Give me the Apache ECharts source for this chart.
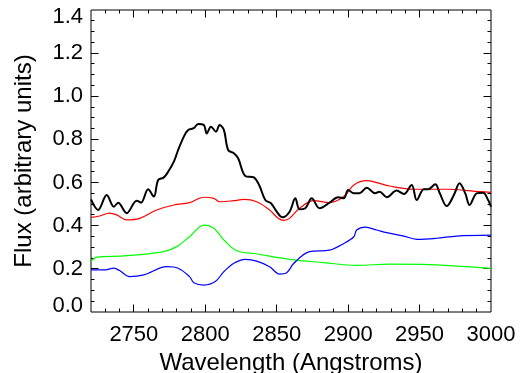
<!DOCTYPE html>
<html>
<head>
<meta charset="utf-8">
<script src="https://cdn.jsdelivr.net/npm/echarts@6/dist/echarts.min.js"></script>
<style>
  html, body { margin: 0; padding: 0; background: #fff; }
  #chart { width: 525px; height: 373px; }
</style>
</head>
<body>
<div id="chart"></div>
<script>
// Spectra: [wavelength (Angstroms), flux (arbitrary units)]
const blackFlux = [
  [2720, 0.522], [2725, 0.473], [2731, 0.542], [2736, 0.488], [2739, 0.507],
  [2745, 0.458], [2752, 0.516], [2755, 0.507], [2760, 0.569], [2764, 0.535],
  [2767, 0.612], [2771, 0.624], [2774, 0.650], [2778, 0.697], [2781, 0.751],
  [2785, 0.813], [2788, 0.844], [2792, 0.852], [2795, 0.872], [2799, 0.867],
  [2801, 0.828], [2804, 0.859], [2807.5, 0.836], [2810, 0.867], [2813, 0.844],
  [2816, 0.751], [2820, 0.736], [2823, 0.713], [2828, 0.631], [2834, 0.624],
  [2838, 0.584], [2842, 0.519], [2846, 0.504], [2850, 0.465], [2854, 0.439],
  [2859, 0.465], [2863, 0.527], [2866, 0.476], [2870, 0.481], [2874.5, 0.527],
  [2880, 0.481], [2887, 0.507], [2893, 0.532], [2897, 0.527], [2900, 0.566],
  [2904, 0.550], [2908, 0.550], [2913, 0.576], [2919, 0.550], [2922, 0.558],
  [2927, 0.532], [2934, 0.563], [2939, 0.547], [2944.5, 0.589], [2948, 0.519],
  [2953, 0.569], [2956, 0.569], [2961, 0.592], [2964, 0.553], [2969, 0.491],
  [2974, 0.542], [2978, 0.597], [2982, 0.550], [2985, 0.496], [2990, 0.550],
  [2994.5, 0.553], [2998, 0.519], [3000, 0.488]
];

const redFlux = [
  [2720, 0.439], [2726, 0.445], [2733, 0.458], [2738, 0.450], [2745, 0.427],
  [2754, 0.434], [2766, 0.473], [2778, 0.496], [2789, 0.507], [2799, 0.532],
  [2806, 0.527], [2810, 0.511], [2820, 0.516], [2827, 0.522], [2836, 0.511],
  [2845, 0.473], [2851, 0.435], [2855, 0.425], [2859, 0.434], [2866, 0.481],
  [2876, 0.516], [2887, 0.507], [2897, 0.535], [2904, 0.589], [2913, 0.609],
  [2920, 0.600], [2929, 0.584], [2946, 0.569], [2969, 0.569], [2992, 0.558],
  [3000, 0.555]
];

const greenFlux = [
  [2720, 0.233], [2724, 0.254], [2743, 0.260], [2771, 0.280], [2780, 0.303],
  [2789, 0.349], [2799, 0.403], [2806, 0.388], [2813, 0.334], [2822, 0.284],
  [2836, 0.269], [2859, 0.244], [2883, 0.229], [2906, 0.216], [2929, 0.222],
  [2953, 0.221], [2976, 0.213], [3000, 0.202]
];

const blueFlux = [
  [2720, 0.195], [2729, 0.195], [2736, 0.203], [2740, 0.192], [2747, 0.164],
  [2757, 0.172], [2773, 0.210], [2781, 0.203], [2789, 0.164], [2792, 0.136],
  [2799, 0.125], [2807, 0.141], [2813, 0.187], [2820, 0.226], [2828, 0.244],
  [2836, 0.236], [2845, 0.210], [2852, 0.176], [2857, 0.182], [2862, 0.226],
  [2873, 0.280], [2887, 0.287], [2897, 0.318], [2904, 0.349], [2906, 0.380],
  [2912, 0.393], [2920, 0.380], [2927, 0.368], [2939, 0.352], [2948, 0.337],
  [2962, 0.342], [2976, 0.352], [3000, 0.356]
];

// Axis ranges and tick values
const xRange = [2720, 3000];
const yRange = [0, 1.4];
const xMajorTicks = [2750, 2800, 2850, 2900, 2950, 3000];
const yMajorTicks = [0.0, 0.2, 0.4, 0.6, 0.8, 1.0, 1.2, 1.4];

// every 10 A on x, every 0.05 on y; flag 1 marks a major tick
const xTickMarks = [];
for (let w = 2730; w < 3000; w += 10) xTickMarks.push([w, xMajorTicks.includes(w) ? 1 : 0]);
const yTickMarks = [];
for (let i = 1; i < 28; i++) yTickMarks.push([+(i * 0.05).toFixed(2), i % 4 === 0 ? 1 : 0]);

const FONT = 'Liberation Sans, Arial, Helvetica, sans-serif';
const MAJOR_LEN = 7.5, MINOR_LEN = 3.5;

function crisp(v) { return Math.round(v - 0.5) + 0.5; }

function tickLine(x1, y1, x2, y2) {
  return { type: 'line', shape: { x1: x1, y1: y1, x2: x2, y2: y2 }, style: { stroke: '#000', lineWidth: 1 } };
}

// Inward tick marks on both sides of the frame, placed through the axis scales
function tickSeries(marks, horizontal) {
  return {
    type: 'custom', data: marks, clip: false,
    renderItem: function (params, api) {
      const cs = params.coordSys;
      const len = api.value(1) ? MAJOR_LEN : MINOR_LEN;
      if (horizontal) {
        const px = crisp(api.coord([api.value(0), yRange[0]])[0]);
        const yb = cs.y + cs.height, yt = cs.y;
        return { type: 'group', children: [
          tickLine(px, yb, px, yb - len),
          tickLine(px, yt, px, yt + len)
        ]};
      }
      const py = crisp(api.coord([xRange[0], api.value(0)])[1]);
      const xl = cs.x, xr = cs.x + cs.width;
      return { type: 'group', children: [
        tickLine(xl, py, xl + len, py),
        tickLine(xr, py, xr - len, py)
      ]};
    }
  };
}

function lineSeries(data, color, width) {
  return {
    type: 'line', data: data,
    showSymbol: false, smooth: 0.35, clip: true,
    lineStyle: { color: color, width: width }
  };
}

function labelText() { return { color: '#000', fontSize: 22, fontFamily: FONT }; }

const chart = echarts.init(document.getElementById('chart'), null, { renderer: 'canvas' });
chart.setOption({
  animation: false,
  backgroundColor: '#fff',
  grid: {
    left: 91, top: 10, right: 34, bottom: 61, outerBoundsMode: 'none',
    show: true, borderColor: '#000', borderWidth: 1, backgroundColor: 'transparent'
  },
  xAxis: {
    type: 'value', min: xRange[0], max: xRange[1],
    axisLine: { show: false },
    axisTick: { show: false },
    splitLine: { show: false },
    axisLabel: Object.assign({
      show: true, customValues: xMajorTicks, margin: 12,
      lineHeight: 22, verticalAlign: 'top',
      formatter: v => String(v)
    }, labelText()),
    name: 'Wavelength (Angstroms)',
    nameLocation: 'middle', nameGap: 35,
    nameTextStyle: { color: '#000', fontSize: 24, fontFamily: FONT, lineHeight: 24, verticalAlign: 'top' }
  },
  yAxis: {
    type: 'value', min: yRange[0], max: yRange[1],
    axisLine: { show: false },
    axisTick: { show: false },
    splitLine: { show: false },
    axisLabel: Object.assign({
      show: true, customValues: yMajorTicks, margin: 8,
      formatter: function (v) {
        const s = v.toFixed(1);
        if (Math.abs(v - yRange[0]) < 1e-6) return '{lo|' + s + '}';
        if (Math.abs(v - yRange[1]) < 1e-6) return '{hi|' + s + '}';
        return s;
      },
      rich: {
        lo: Object.assign({ padding: [0, 0, 13, 0] }, labelText()),
        hi: Object.assign({ padding: [14, 0, 0, 0] }, labelText())
      }
    }, labelText()),
    name: 'Flux (arbitrary units)',
    nameLocation: 'middle', nameGap: 55,
    nameTextStyle: { color: '#000', fontSize: 24, fontFamily: FONT }
  },
  series: [
    lineSeries(greenFlux, '#00ff00', 1.2),
    lineSeries(blueFlux, '#0000ff', 1.2),
    lineSeries(redFlux, '#ff0000', 1.2),
    lineSeries(blackFlux, '#000000', 2),
    tickSeries(xTickMarks, true),
    tickSeries(yTickMarks, false)
  ]
});
</script>
</body>
</html>
